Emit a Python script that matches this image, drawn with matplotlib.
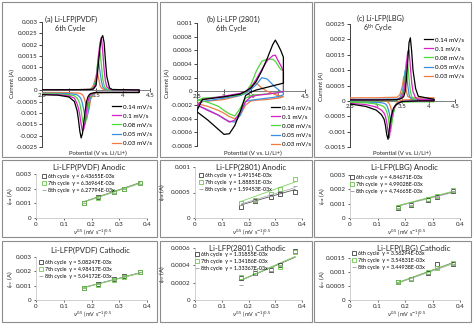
"""Cyclic voltammograms (6th cycle) and peak current vs sqrt(scan rate) fits."""

import matplotlib

matplotlib.use("Agg")

import matplotlib.pyplot as plt
import numpy as np
from matplotlib.patches import Rectangle
from matplotlib.ticker import FuncFormatter, MultipleLocator

plt.rcParams["font.family"] = ["Lato", "DejaVu Sans"]

W, H = 474, 324

# ---- CV data (currents in A), order: 0.14, 0.1, 0.08, 0.05, 0.03 mV/s ----
rate_labels = ["0.14 mV/s", "0.1 mV/s", "0.08 mV/s", "0.05 mV/s", "0.03 mV/s"]
cv_colors = ["#000000", "#d61fc4", "#4cd93a", "#3b8fe0", "#f07b41"]

pvdf_fwd_v = [2.5, 3.0, 3.4, 3.45, 3.5, 3.525, 3.55, 3.575, 3.6, 3.625, 3.65, 3.675, 3.7, 3.75, 3.8, 4.3]
pvdf_fwd_i = [
    [0.00002, 0.00002, 0.00003, 0.00005, 0.0002, 0.0007, 0.0013, 0.0019, 0.0023, 0.0024, 0.0021, 0.0013, 0.0006, 0.0001, 0.00003, 0.00001],
    [0.00002, 0.00002, 0.00003, 0.00006, 0.0003, 0.0009, 0.0016, 0.0021, 0.0023, 0.0017, 0.0009, 0.0004, 0.00015, 0.00005, 0.00002, 0.00001],
    [0.00001, 0.00002, 0.00003, 0.0001, 0.0004, 0.0011, 0.0016, 0.0017, 0.0011, 0.0005, 0.0002, 0.0001, 0.00005, 0.00002, 0.00001, 0.0],
    [0.00001, 0.00001, 0.00003, 0.0001, 0.0005, 0.0010, 0.0012, 0.0008, 0.0004, 0.00015, 0.00008, 0.00004, 0.00002, 0.00001, 0.0, 0.0],
    [0.0, 0.00001, 0.00004, 0.0002, 0.0006, 0.0008, 0.0005, 0.0002, 0.0001, 0.00005, 0.00003, 0.00002, 0.00001, 0.0, 0.0, 0.0],
]
pvdf_rev_v = [4.3, 3.8, 3.5, 3.45, 3.4, 3.375, 3.35, 3.325, 3.3, 3.275, 3.25, 3.225, 3.2, 3.175, 3.15, 3.1, 3.0, 2.8, 2.5]
pvdf_rev_i = [
    [-0.0001, -0.0001, -0.0001, -0.00012, -0.00015, -0.0002, -0.0003, -0.0005, -0.0009, -0.0014, -0.0019, -0.0021, -0.0018, -0.0013, -0.0009, -0.0005, -0.0003, -0.00022, -0.0002],
    [-0.0001, -0.0001, -0.0001, -0.00013, -0.0002, -0.0003, -0.0005, -0.0009, -0.0014, -0.0017, -0.0018, -0.0015, -0.0011, -0.0008, -0.0006, -0.00035, -0.00025, -0.0002, -0.00018],
    [-0.0001, -0.0001, -0.0001, -0.00015, -0.00025, -0.0004, -0.0008, -0.0012, -0.0015, -0.00155, -0.0013, -0.0009, -0.0006, -0.00045, -0.00035, -0.00025, -0.0002, -0.00017, -0.00015],
    [-0.0001, -0.0001, -0.0001, -0.00018, -0.0003, -0.0006, -0.0010, -0.0013, -0.0012, -0.0009, -0.0006, -0.0004, -0.0003, -0.00025, -0.0002, -0.00018, -0.00015, -0.00014, -0.00013],
    [-0.0001, -0.0001, -0.00012, -0.0002, -0.0004, -0.0008, -0.0010, -0.0008, -0.0005, -0.0003, -0.0002, -0.00016, -0.00014, -0.00013, -0.00012, -0.00012, -0.00011, -0.0001, -0.0001],
]

b2801_fwd_v = [2.5, 2.6, 3.0, 3.3, 3.4, 3.5, 3.6, 3.7, 3.8, 3.9, 3.95, 4.0, 4.05, 4.1]
b2801_fwd_i = [
    [-0.00028, -0.00012, -0.00008, -0.00004, 0.0, 0.00005, 0.00015, 0.0003, 0.00048, 0.00068, 0.00075, 0.00068, 0.0006, 0.0005],
    [-0.00022, -0.00012, -0.00007, -0.00003, 0.0, 0.00006, 0.00018, 0.00032, 0.00045, 0.00052, 0.00053, 0.00045, 0.00038, 0.0003],
    [-0.00015, -0.0001, -0.00008, -0.00005, -0.00002, 0.0001, 0.0003, 0.00044, 0.00047, 0.00047, 0.00044, 0.00038, 0.00032, 0.0003],
    [-0.0002, -0.00015, -0.0001, -0.00006, -0.00003, 0.00003, 0.0001, 0.0002, 0.00018, 0.0001, 0.00006, 0.00003, 0.0, -0.00002],
    [-0.00018, -0.00015, -0.00012, -0.00006, -0.00002, 0.00008, 0.00012, 0.00005, 0.0, -0.00003, -0.00005, -0.00006, -0.00007, -0.00008],
]
b2801_rev_v = [4.1, 4.0, 3.8, 3.6, 3.5, 3.4, 3.3, 3.2, 3.1, 3.0, 2.9, 2.7, 2.5]
b2801_rev_i = [
    [0.00012, 0.0001, 0.00006, 0.00002, -0.00001, -0.00006, -0.0003, -0.0005, -0.00062, -0.00063, -0.00056, -0.00042, -0.0003],
    [0.0, -0.00002, -0.00004, -0.00006, -0.00008, -0.00015, -0.0003, -0.00042, -0.00045, -0.0004, -0.00035, -0.00028, -0.0002],
    [0.0, -0.00002, -0.00004, -0.00005, -0.00006, -0.0001, -0.00025, -0.00036, -0.00033, -0.00028, -0.00022, -0.00016, -0.00012],
    [-0.00005, -0.00008, -0.0001, -0.00012, -0.00013, -0.00015, -0.00035, -0.00045, -0.00044, -0.0004, -0.00035, -0.00027, -0.0002],
    [-0.00008, -0.0001, -0.00012, -0.00013, -0.00014, -0.0002, -0.00035, -0.0004, -0.00037, -0.00032, -0.00028, -0.00022, -0.00018],
]

lbg_fwd_v = [2.5, 3.0, 3.4, 3.45, 3.5, 3.525, 3.55, 3.575, 3.6, 3.625, 3.65, 3.675, 3.7, 3.75, 3.8, 4.1]
lbg_fwd_i = [
    [0.00003, 0.00003, 0.00004, 0.00006, 0.0001, 0.00015, 0.0003, 0.0007, 0.0013, 0.0019, 0.00205, 0.0016, 0.001, 0.0004, 0.00015, 0.00005],
    [0.00003, 0.00003, 0.00004, 0.00008, 0.00015, 0.0003, 0.0006, 0.0012, 0.0016, 0.00165, 0.0011, 0.0006, 0.0003, 0.0001, 0.00005, 0.00003],
    [0.0, 0.0, 0.00002, 0.00008, 0.0002, 0.0004, 0.0008, 0.0013, 0.0012, 0.0007, 0.0003, 0.00015, 0.00008, 0.00003, 0.0, 0.0],
    [0.00005, 0.00005, 0.00006, 0.0001, 0.0003, 0.0006, 0.001, 0.0009, 0.0005, 0.0002, 0.0001, 0.00007, 0.00005, 0.00005, 0.00005, 0.00005],
    [0.0001, 0.0001, 0.00012, 0.0002, 0.0005, 0.0008, 0.0006, 0.0003, 0.00015, 0.00012, 0.0001, 0.0001, 0.0001, 0.0001, 0.0001, 0.0001],
]
lbg_rev_v = [4.1, 3.8, 3.5, 3.45, 3.4, 3.375, 3.35, 3.325, 3.3, 3.275, 3.25, 3.225, 3.2, 3.175, 3.15, 3.1, 3.0, 2.8, 2.5]
lbg_rev_i = [
    [0.0, 0.0, -0.00002, -0.00005, -0.0001, -0.00013, -0.00018, -0.00025, -0.0004, -0.0006, -0.0009, -0.00125, -0.0011, -0.0008, -0.0006, -0.00045, -0.0003, -0.00018, -0.0001],
    [0.0, 0.0, -0.00002, -0.00005, -0.0001, -0.00014, -0.0002, -0.0003, -0.0005, -0.0008, -0.0012, -0.001, -0.0007, -0.0005, -0.0004, -0.0003, -0.0002, -0.00012, -0.00008],
    [-0.00003, -0.00003, -0.00004, -0.00006, -0.0001, -0.00015, -0.00025, -0.0004, -0.0007, -0.001, -0.0008, -0.0005, -0.00035, -0.00025, -0.0002, -0.00015, -0.0001, -0.00006, -0.00005],
    [0.0, 0.0, -0.00002, -0.00004, -0.00008, -0.00012, -0.0002, -0.0004, -0.0006, -0.0007, -0.0004, -0.00025, -0.00015, -0.0001, -0.00008, -0.00006, -0.00005, -0.00004, -0.00003],
    [0.00005, 0.00005, 0.00003, 0.0, -0.00005, -0.0001, -0.0002, -0.00035, -0.0004, -0.0002, -0.0001, -0.00005, -0.00002, 0.0, 0.0, 0.0, 0.00002, 0.00003, 0.00005],
]

# ---- peak current vs sqrt(scan rate), rows: 6th, 7th, 8th cycle ----
scan_rates = [0.03, 0.05, 0.08, 0.1, 0.14]
cycles = ["6th", "7th", "8th"]

pvdf_pa = [[0.00105, 0.0014, 0.00178, 0.002, 0.0024],
           [0.00103, 0.00138, 0.00175, 0.00198, 0.00238],
           [0.001, 0.00135, 0.00172, 0.00195, 0.00234]]
pvdf_pa_slope = [6.43655e-3, 6.36964e-3, 6.27794e-3]
b2801_pa = [[0.00022, 0.00033, 0.00041, 0.00047, 0.00051],
            [0.0003, 0.00036, 0.00048, 0.00057, 0.00076],
            [0.00025, 0.00034, 0.00044, 0.00053, 0.00062]]
b2801_pa_slope = [1.49154e-3, 1.88851e-3, 1.59453e-3]
lbg_pa = [[0.00072, 0.00092, 0.00126, 0.0015, 0.0019],
          [0.00075, 0.00095, 0.0013, 0.00155, 0.00195],
          [0.0007, 0.0009, 0.00122, 0.00146, 0.00185]]
lbg_pa_slope = [4.84671e-3, 4.99028e-3, 4.74665e-3]

pvdf_pc = [[0.00085, 0.0011, 0.00145, 0.00165, 0.00195],
           [0.00083, 0.00108, 0.00142, 0.00162, 0.00192],
           [0.00084, 0.00109, 0.00143, 0.00164, 0.00194]]
pvdf_pc_slope = [5.08247e-3, 4.98417e-3, 5.04172e-3]
b2801_pc = [[0.00025, 0.00031, 0.00035, 0.0004, 0.00056],
            [0.00026, 0.00033, 0.00036, 0.00038, 0.00055],
            [0.00017, 0.00029, 0.00034, 0.00039, 0.00054]]
b2801_pc_slope = [1.31855e-3, 1.34186e-3, 1.33367e-3]
lbg_pc = [[0.00063, 0.00074, 0.00095, 0.00128, 0.0013],
          [0.00065, 0.00076, 0.001, 0.00115, 0.00132],
          [0.00062, 0.00073, 0.00092, 0.00112, 0.00128]]
lbg_pc_slope = [3.56294e-3, 3.54831e-3, 3.44938e-3]

fit_colors = ["#404040", "#6cc94e", "#9a9a9a"]
fit_markers = ["s", "s", "_"]
trend_colors = ["#595959", "#7ed35f", "#b0b0b0"]

TXT = "#262626"
fmt = FuncFormatter(lambda v, p: "0" if abs(v) < 1e-12 else f"{v:g}")

fig = plt.figure(figsize=(W / 100, H / 100), dpi=100)


def fx(x):
    return x / W


def fy(y):
    return 1 - y / H


def px_axes(x0, y0, x1, y1):
    return fig.add_axes([fx(x0), fy(y1), (x1 - x0) / W, (y1 - y0) / H])


def text(x, y, s, size, **kw):
    fig.text(fx(x), fy(y), s, fontsize=size, color=TXT, va="center", **kw)


for x0, y0, x1, y1 in [(2, 2, 157, 157), (160, 2, 312, 157), (314, 2, 471, 157),
                       (2, 160, 157, 237), (160, 160, 312, 237), (314, 160, 471, 237),
                       (2, 241, 157, 322), (160, 241, 312, 322), (314, 241, 471, 322)]:
    fig.add_artist(Rectangle((fx(x0), fy(y1)), (x1 - x0) / W, (y1 - y0) / H,
                             transform=fig.transFigure, fill=False, ec="#8c8c8c", lw=0.8))


def draw_cv(box, fwd_v, fwd_i, rev_v, rev_i, ylim, ystep, leg_xy):
    ax = px_axes(*box)
    ax.patch.set_alpha(0)
    lines = []
    for k in range(4, -1, -1):
        (ln,) = ax.plot(fwd_v + rev_v, fwd_i[k] + rev_i[k], color=cv_colors[k], lw=0.9, zorder=3 + (5 - k))
        lines.append(ln)
    lines = lines[::-1]
    ax.set_xlim(2.5, 4.5)
    ax.set_ylim(*ylim)
    ax.xaxis.set_major_locator(MultipleLocator(0.5))
    ax.yaxis.set_major_locator(MultipleLocator(ystep))
    ax.xaxis.set_major_formatter(fmt)
    ax.yaxis.set_major_formatter(fmt)
    for s in ("top", "right"):
        ax.spines[s].set_visible(False)
    ax.spines["bottom"].set_position(("data", 0))
    ax.spines["bottom"].set_color("#7f7f7f")
    ax.spines["left"].set_color("#404040")
    for s in ("bottom", "left"):
        ax.spines[s].set_linewidth(0.7)
    ax.tick_params(axis="x", direction="inout", length=2.5, width=0.6, pad=1, labelsize=4.5, colors=TXT)
    ax.tick_params(axis="y", direction="out", length=2, width=0.6, pad=1, labelsize=4.5, colors=TXT)
    ax.legend(lines, rate_labels, loc="upper left", bbox_to_anchor=(fx(leg_xy[0]), fy(leg_xy[1])),
              bbox_transform=fig.transFigure, frameon=False, fontsize=4.5, handlelength=1.5,
              handletextpad=0.3, labelspacing=0.6, borderpad=0, borderaxespad=0)
    return ax


draw_cv((42, 22, 150, 147), pvdf_fwd_v, pvdf_fwd_i, pvdf_rev_v, pvdf_rev_i, (-0.0025, 0.003), 0.0005, (112, 104))
draw_cv((197, 23, 305, 146), b2801_fwd_v, b2801_fwd_i, b2801_rev_v, b2801_rev_i, (-0.0008, 0.001), 0.0002, (271, 105))
draw_cv((350, 24, 455, 147), lbg_fwd_v, lbg_fwd_i, lbg_rev_v, lbg_rev_i, (-0.0015, 0.0025), 0.0005, (424, 37))

text(45, 19.5, "(a) Li-LFP(PVDF)", 5.2)
text(70, 28, "6th Cycle", 5.2, ha="center")
text(233, 19.5, "(b) Li-LFP (2801)", 5.2, ha="center")
text(231, 28, "6th Cycle", 5.2, ha="center")
text(380, 18.5, "(c) Li-LFP(LBG)", 5.2, ha="center")
text(378, 28.5, r"6$^{\mathrm{th}}$ Cycle", 5.0, ha="center")
for cx in (98, 253, 402):
    text(cx, 153, "Potential (V vs. Li/Li+)", 4.3, ha="center")
for cx, cy in ((12, 84), (167, 84), (321, 86)):
    text(cx, cy, "Current (A)", 4.3, ha="center", rotation=90)


def draw_fit(box, pts, slopes, top, ystep, leg_xy):
    ax = px_axes(*box)
    ax.patch.set_alpha(0)
    x = np.sqrt(scan_rates)
    xs = np.array([x.min(), x.max()])
    for c in (0, 2, 1):
        ax.plot(xs, slopes[c] * xs, color=trend_colors[c], lw=0.6, zorder=2)
    handles = []
    for c in range(3):
        (h,) = ax.plot(x, pts[c], ls="none", marker=fit_markers[c], ms=2.6, mfc="none",
                       mec=fit_colors[c], mew=0.6, zorder=3)
        handles.append(h)
    labels = [f"{cycles[c]} cycle  y = {slopes[c]:.5E}x" for c in range(3)]
    ax.set_xlim(0, 0.4)
    ax.set_ylim(0, top)
    ax.xaxis.set_major_locator(MultipleLocator(0.1))
    ax.yaxis.set_major_locator(MultipleLocator(ystep))
    ax.xaxis.set_major_formatter(fmt)
    ax.yaxis.set_major_formatter(fmt)
    for s in ("top", "right"):
        ax.spines[s].set_visible(False)
    for s in ("bottom", "left"):
        ax.spines[s].set_color("#c8c8c8")
        ax.spines[s].set_linewidth(0.6)
    ax.tick_params(length=1.5, width=0.5, pad=1.5, labelsize=4.5, colors=TXT)
    ax.legend(handles, labels, loc="upper left", bbox_to_anchor=(fx(leg_xy[0]), fy(leg_xy[1])),
              bbox_transform=fig.transFigure, frameon=False, fontsize=3.9, handlelength=0.8,
              handletextpad=0.3, labelspacing=0.35, borderpad=0, borderaxespad=0)
    return ax


draw_fit((36, 174, 147, 218), pvdf_pa, pvdf_pa_slope, 0.003, 0.001, (42, 174))
draw_fit((195, 167, 302, 218), b2801_pa, b2801_pa_slope, 0.001, 0.0005, (199, 173))
draw_fit((350, 175, 460, 218), lbg_pa, lbg_pa_slope, 0.003, 0.001, (350, 175))
draw_fit((36, 257, 147, 300), pvdf_pc, pvdf_pc_slope, 0.003, 0.001, (39, 260))
draw_fit((195, 248, 302, 300), b2801_pc, b2801_pc_slope, 0.0006, 0.0002, (195, 252))
draw_fit((350, 258, 460, 300), lbg_pc, lbg_pc_slope, 0.0015, 0.0005, (352, 251))

text(89, 167, "Li-LFP(PVDF) Anodic", 5.6, ha="center")
text(251, 167, "Li-LFP(2801) Anodic", 5.6, ha="center")
text(404, 167, "Li-LFP(LBG) Anodic", 5.6, ha="center")
text(90, 250, "Li-LFP(PVDF) Cathodic", 5.6, ha="center")
text(247, 248, "Li-LFP(2801) Cathodic", 5.6, ha="center")
text(414, 248, "Li-LFP(LBG) Cathodic", 5.6, ha="center")

xlab = r"$\nu^{0.5}$ (mV s$^{-1}$)$^{0.5}$"
for cx in (93, 252, 407):
    text(cx, 232, xlab, 4.0, ha="center")
    text(cx, 314, xlab, 4.0, ha="center")
for cx, cy, s in ((11, 196, r"$I_{pa}$ (A)"), (163, 192, r"$I_{pa}$ (A)"), (323, 196, r"$I_{pa}$ (A)"),
                  (11, 279, r"$I_{pc}$ (A)"), (163, 274, r"$I_{pc}$ (A)"), (323, 279, r"$I_{pc}$ (A)")):
    text(cx, cy, s, 4.3, ha="center", rotation=90)

fig.savefig("out.png", dpi=100)
